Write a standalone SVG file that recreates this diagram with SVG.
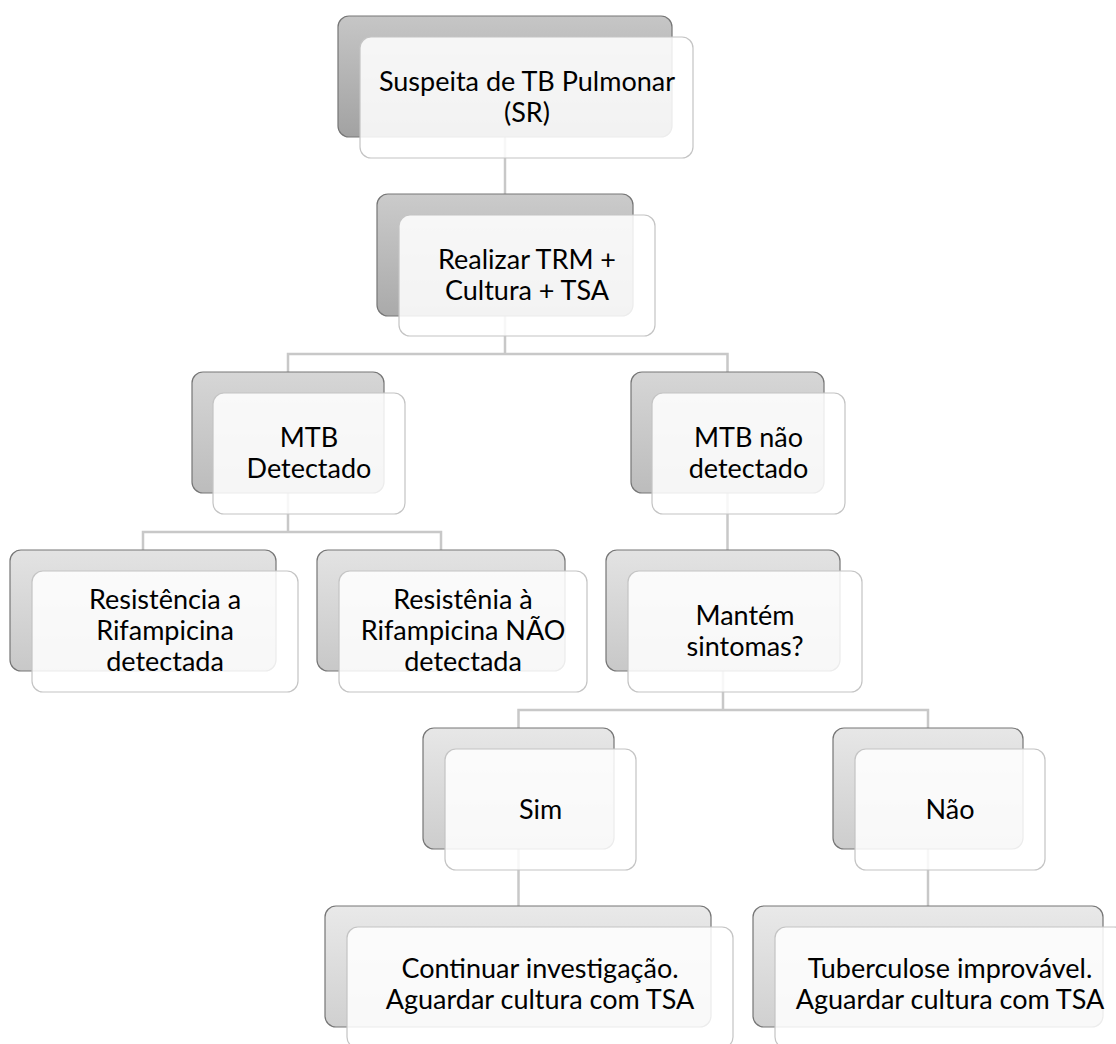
<svg xmlns="http://www.w3.org/2000/svg" width="1116" height="1044" viewBox="0 0 1116 1044">
<defs>
<linearGradient id="g1" x1="0" y1="0" x2="0" y2="1"><stop offset="0" stop-color="#c6c6c6"/><stop offset="1" stop-color="#a2a2a2"/></linearGradient>
<linearGradient id="g2" x1="0" y1="0" x2="0" y2="1"><stop offset="0" stop-color="#cbcbcb"/><stop offset="1" stop-color="#aaaaaa"/></linearGradient>
<linearGradient id="g3" x1="0" y1="0" x2="0" y2="1"><stop offset="0" stop-color="#d6d6d6"/><stop offset="1" stop-color="#bcbcbc"/></linearGradient>
<linearGradient id="g4" x1="0" y1="0" x2="0" y2="1"><stop offset="0" stop-color="#e3e3e3"/><stop offset="1" stop-color="#c8c8c8"/></linearGradient>
<linearGradient id="g5" x1="0" y1="0" x2="0" y2="1"><stop offset="0" stop-color="#e7e7e7"/><stop offset="1" stop-color="#cdcdcd"/></linearGradient>
<linearGradient id="g6" x1="0" y1="0" x2="0" y2="1"><stop offset="0" stop-color="#e9e9e9"/><stop offset="1" stop-color="#d0d0d0"/></linearGradient>
</defs>
<style>
.back{stroke:#767676;stroke-width:1.2}
.front{fill:#ffffff;fill-opacity:0.86;stroke:#c4c4c4;stroke-width:1.2}
.conn{fill:none;stroke:#c8c8c8;stroke-width:2.5}
text{font-family:Lato,"Liberation Sans",sans-serif;font-size:27px;fill:#000;text-anchor:middle}
</style>
<rect width="1116" height="1044" fill="#ffffff"/>
<g id="connectors">
<path class="conn" d="M505,137 V194"/>
<path class="conn" d="M505,316 V354 M288,372 V354 H727.5 V372"/>
<path class="conn" d="M288,493 V532 M143,550 V532 H441 V550"/>
<path class="conn" d="M727.5,493 V550"/>
<path class="conn" d="M723,671 V710 M518.5,728 V710 H928 V728"/>
<path class="conn" d="M518.5,849 V906"/>
<path class="conn" d="M928,849 V906"/>
</g>
<g id="n1">
<rect class="back" x="338" y="16" width="334" height="121" rx="11" fill="url(#g1)"/>
<rect class="front" x="360" y="37" width="333" height="121" rx="11"/>
<text x="527" y="91">Suspeita de TB Pulmonar</text>
<text x="527" y="122">(SR)</text>
</g>
<g id="n2">
<rect class="back" x="377" y="194" width="256" height="122" rx="11" fill="url(#g2)"/>
<rect class="front" x="399" y="215" width="256" height="121" rx="11"/>
<text x="527" y="269">Realizar TRM +</text>
<text x="527" y="300">Cultura + TSA</text>
</g>
<g id="n3">
<rect class="back" x="192" y="372" width="192" height="121" rx="11" fill="url(#g3)"/>
<rect class="front" x="213" y="393" width="192" height="121" rx="11"/>
<text x="309" y="447">MTB</text>
<text x="309" y="478">Detectado</text>
</g>
<g id="n4">
<rect class="back" x="631" y="372" width="193" height="121" rx="11" fill="url(#g3)"/>
<rect class="front" x="652" y="393" width="193" height="121" rx="11"/>
<text x="748.5" y="447">MTB não</text>
<text x="748.5" y="478">detectado</text>
</g>
<g id="n5">
<rect class="back" x="10" y="550" width="266" height="121" rx="11" fill="url(#g4)"/>
<rect class="front" x="32" y="571" width="266" height="121" rx="11"/>
<text x="165" y="609">Resistência a</text>
<text x="165" y="640">Rifampicina</text>
<text x="165" y="671">detectada</text>
</g>
<g id="n6">
<rect class="back" x="317" y="550" width="248" height="121" rx="11" fill="url(#g4)"/>
<rect class="front" x="339" y="571" width="248" height="121" rx="11"/>
<text x="463" y="609">Resistênia à</text>
<text x="463" y="640">Rifampicina NÃO</text>
<text x="463" y="671">detectada</text>
</g>
<g id="n7">
<rect class="back" x="606" y="550" width="234" height="121" rx="11" fill="url(#g4)"/>
<rect class="front" x="628" y="571" width="234" height="121" rx="11"/>
<text x="745" y="625">Mantém</text>
<text x="745" y="656">sintomas?</text>
</g>
<g id="n8">
<rect class="back" x="423" y="728" width="191" height="121" rx="11" fill="url(#g5)"/>
<rect class="front" x="445" y="749" width="191" height="121" rx="11"/>
<text x="540.5" y="819">Sim</text>
</g>
<g id="n9">
<rect class="back" x="833" y="728" width="190" height="121" rx="11" fill="url(#g5)"/>
<rect class="front" x="855" y="749" width="190" height="121" rx="11"/>
<text x="950" y="819">Não</text>
</g>
<g id="n10">
<rect class="back" x="325" y="906" width="386" height="121" rx="11" fill="url(#g6)"/>
<rect class="front" x="347" y="927" width="386" height="121" rx="11"/>
<text x="540" y="978">Continuar investigação.</text>
<text x="540" y="1009">Aguardar cultura com TSA</text>
</g>
<g id="n11">
<rect class="back" x="753" y="906" width="350" height="121" rx="11" fill="url(#g6)"/>
<rect class="front" x="775" y="927" width="350" height="121" rx="11"/>
<text x="950" y="978">Tuberculose improvável.</text>
<text x="950" y="1009">Aguardar cultura com TSA</text>
</g>
</svg>
